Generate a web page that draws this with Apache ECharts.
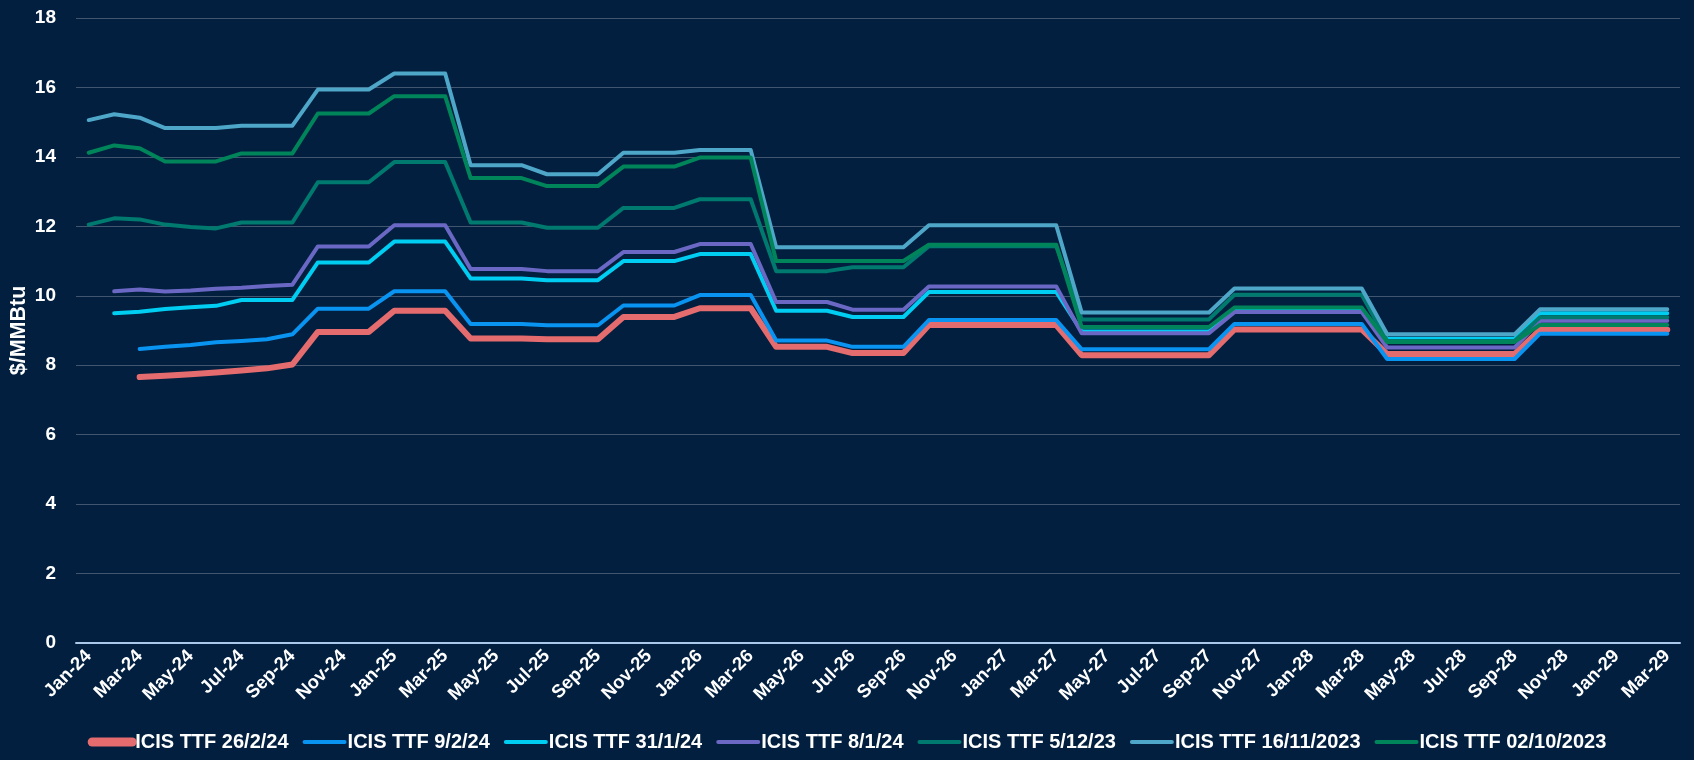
<!DOCTYPE html>
<html>
<head>
<meta charset="utf-8">
<script src="https://cdn.jsdelivr.net/npm/echarts@6/dist/echarts.min.js"></script>
<style>
  html, body { margin: 0; padding: 0; background: #021f3f; }
  #chart { width: 1694px; height: 760px; }
</style>
</head>
<body>
<div id="chart"></div>
<script>
const months = [
  'Jan-24', 'Feb-24', 'Mar-24', 'Apr-24', 'May-24', 'Jun-24', 'Jul-24', 'Aug-24', 'Sep-24', 'Oct-24', 'Nov-24', 'Dec-24',
  'Jan-25', 'Feb-25', 'Mar-25', 'Apr-25', 'May-25', 'Jun-25', 'Jul-25', 'Aug-25', 'Sep-25', 'Oct-25', 'Nov-25', 'Dec-25',
  'Jan-26', 'Feb-26', 'Mar-26', 'Apr-26', 'May-26', 'Jun-26', 'Jul-26', 'Aug-26', 'Sep-26', 'Oct-26', 'Nov-26', 'Dec-26',
  'Jan-27', 'Feb-27', 'Mar-27', 'Apr-27', 'May-27', 'Jun-27', 'Jul-27', 'Aug-27', 'Sep-27', 'Oct-27', 'Nov-27', 'Dec-27',
  'Jan-28', 'Feb-28', 'Mar-28', 'Apr-28', 'May-28', 'Jun-28', 'Jul-28', 'Aug-28', 'Sep-28', 'Oct-28', 'Nov-28', 'Dec-28',
  'Jan-29', 'Feb-29', 'Mar-29'
];

// $/MMBtu, one value per month (null = curve not yet quoted)
const ttf260224 = [
  null, null, 7.66, 7.70, 7.74, 7.79, 7.85, 7.91, 8.02, 8.96, 8.96, 8.96,
  9.57, 9.57, 9.57, 8.77, 8.77, 8.77, 8.75, 8.75, 8.75, 9.39, 9.39, 9.39,
  9.64, 9.64, 9.64, 8.53, 8.53, 8.53, 8.35, 8.35, 8.35, 9.16, 9.16, 9.16,
  9.16, 9.16, 9.16, 8.29, 8.29, 8.29, 8.29, 8.29, 8.29, 9.03, 9.03, 9.03,
  9.03, 9.03, 9.03, 8.32, 8.32, 8.32, 8.32, 8.32, 8.32, 9.02, 9.02, 9.02,
  9.02, 9.02, 9.02
];
const ttf090224 = [
  null, null, 8.47, 8.53, 8.58, 8.66, 8.70, 8.75, 8.89, 9.63, 9.63, 9.63,
  10.13, 10.13, 10.13, 9.19, 9.19, 9.19, 9.15, 9.15, 9.15, 9.72, 9.72, 9.72,
  10.02, 10.02, 10.02, 8.71, 8.71, 8.71, 8.53, 8.53, 8.53, 9.30, 9.30, 9.30,
  9.30, 9.30, 9.30, 8.46, 8.46, 8.46, 8.46, 8.46, 8.46, 9.19, 9.19, 9.19,
  9.19, 9.19, 9.19, 8.18, 8.18, 8.18, 8.18, 8.18, 8.18, 8.91, 8.91, 8.91,
  8.91, 8.91, 8.91
];
const ttf310124 = [
  null, 9.50, 9.54, 9.62, 9.67, 9.71, 9.88, 9.88, 9.88, 10.96, 10.96, 10.96,
  11.56, 11.56, 11.56, 10.50, 10.50, 10.50, 10.45, 10.45, 10.45, 11.00, 11.00, 11.00,
  11.20, 11.20, 11.20, 9.57, 9.57, 9.57, 9.39, 9.39, 9.39, 10.11, 10.11, 10.11,
  10.11, 10.11, 10.11, 8.97, 8.97, 8.97, 8.97, 8.97, 8.97, 9.56, 9.56, 9.56,
  9.56, 9.56, 9.56, 8.76, 8.76, 8.76, 8.76, 8.76, 8.76, 9.50, 9.50, 9.50,
  9.50, 9.50, 9.50
];
const ttf080124 = [
  null, 10.13, 10.18, 10.12, 10.15, 10.20, 10.23, 10.28, 10.32, 11.42, 11.42, 11.42,
  12.03, 12.03, 12.03, 10.77, 10.77, 10.77, 10.71, 10.71, 10.71, 11.26, 11.26, 11.26,
  11.49, 11.49, 11.49, 9.82, 9.82, 9.82, 9.60, 9.60, 9.60, 10.27, 10.27, 10.27,
  10.27, 10.27, 10.27, 8.92, 8.92, 8.92, 8.92, 8.92, 8.92, 9.53, 9.53, 9.53,
  9.53, 9.53, 9.53, 8.51, 8.51, 8.51, 8.51, 8.51, 8.51, 9.28, 9.28, 9.28,
  9.28, 9.28, 9.28
];
const ttf051223 = [
  12.05, 12.23, 12.20, 12.05, 11.98, 11.94, 12.11, 12.11, 12.11, 13.27, 13.27, 13.27,
  13.85, 13.85, 13.85, 12.11, 12.11, 12.11, 11.96, 11.96, 11.96, 12.53, 12.53, 12.53,
  12.78, 12.78, 12.78, 10.71, 10.71, 10.71, 10.82, 10.82, 10.82, 11.43, 11.43, 11.43,
  11.43, 11.43, 11.43, 9.32, 9.32, 9.32, 9.32, 9.32, 9.32, 10.03, 10.03, 10.03,
  10.03, 10.03, 10.03, 8.70, 8.70, 8.70, 8.70, 8.70, 8.70, 9.38, 9.38, 9.38,
  9.38, 9.38, 9.38
];
const ttf161123 = [
  15.06, 15.23, 15.13, 14.83, 14.83, 14.83, 14.90, 14.90, 14.90, 15.94, 15.94, 15.94,
  16.40, 16.40, 16.40, 13.76, 13.76, 13.76, 13.50, 13.50, 13.50, 14.12, 14.12, 14.12,
  14.20, 14.20, 14.20, 11.40, 11.40, 11.40, 11.40, 11.40, 11.40, 12.03, 12.03, 12.03,
  12.03, 12.03, 12.03, 9.52, 9.52, 9.52, 9.52, 9.52, 9.52, 10.21, 10.21, 10.21,
  10.21, 10.21, 10.21, 8.89, 8.89, 8.89, 8.89, 8.89, 8.89, 9.61, 9.61, 9.61,
  9.61, 9.61, 9.61
];
const ttf021023 = [
  14.12, 14.33, 14.25, 13.87, 13.87, 13.87, 14.10, 14.10, 14.10, 15.25, 15.25, 15.25,
  15.75, 15.75, 15.75, 13.39, 13.39, 13.39, 13.16, 13.16, 13.16, 13.72, 13.72, 13.72,
  13.98, 13.98, 13.98, 11.00, 11.00, 11.00, 11.00, 11.00, 11.00, 11.47, 11.47, 11.47,
  11.47, 11.47, 11.47, 9.10, 9.10, 9.10, 9.10, 9.10, 9.10, 9.66, 9.66, 9.66,
  9.66, 9.66, 9.66, 8.67, 8.67, 8.67, 8.67, 8.67, 8.67, 9.16, 9.16, 9.16,
  9.16, 9.16, 9.16
];

const curves = [
  { name: 'ICIS TTF 26/2/24', data: ttf260224, color: '#e46c6e', width: 6, iconWidth: 9 },
  { name: 'ICIS TTF 9/2/24', data: ttf090224, color: '#0994f2', width: 4, iconWidth: 4 },
  { name: 'ICIS TTF 31/1/24', data: ttf310124, color: '#00cdf2', width: 4, iconWidth: 4 },
  { name: 'ICIS TTF 8/1/24', data: ttf080124, color: '#6a68c4', width: 4, iconWidth: 4 },
  { name: 'ICIS TTF 5/12/23', data: ttf051223, color: '#00796e', width: 4, iconWidth: 4 },
  { name: 'ICIS TTF 16/11/2023', data: ttf161123, color: '#4ea6c8', width: 4, iconWidth: 4 },
  { name: 'ICIS TTF 02/10/2023', data: ttf021023, color: '#00855a', width: 4, iconWidth: 4 }
];

const font = 'Liberation Sans, Arial, sans-serif';
const chart = echarts.init(document.getElementById('chart'));
chart.setOption({
  backgroundColor: '#021f3f',
  animation: false,
  textStyle: { fontFamily: font },
  grid: {
    left: 76,
    right: 14,
    top: 18,
    bottom: 117,
    containLabel: false,
    outerBoundsMode: 'none'
  },
  legend: {
    bottom: 3,
    left: 'center',
    itemWidth: 40,
    itemHeight: 14,
    itemGap: 14,
    itemStyle: { opacity: 0 },
    textStyle: { color: '#ffffff', fontSize: 20, fontWeight: 'bold', fontFamily: font, padding: [0, 0, 0, -2] },
    data: curves.map(c => ({
      name: c.name,
      lineStyle: { width: c.iconWidth, cap: 'round', color: c.color }
    }))
  },
  xAxis: {
    type: 'category',
    data: months,
    boundaryGap: true,
    axisLine: { lineStyle: { color: '#a9c8ea', width: 2 } },
    axisTick: { interval: 1, length: 6, lineStyle: { color: '#a9c8ea', width: 1.5 } },
    axisLabel: {
      interval: 1,
      rotate: 45,
      color: '#ffffff',
      fontSize: 18.5,
      fontWeight: 'bold',
      margin: 10
    },
    splitLine: { show: false }
  },
  yAxis: {
    type: 'value',
    min: 0,
    max: 18,
    interval: 2,
    name: '$/MMBtu',
    nameLocation: 'middle',
    nameGap: 46,
    nameMoveOverlap: false,
    nameTextStyle: { color: '#ffffff', fontSize: 21.5, fontWeight: 'bold' },
    axisLine: { show: false },
    axisTick: { show: false },
    axisLabel: { color: '#ffffff', fontSize: 19, fontWeight: 'bold', margin: 20 },
    splitLine: { lineStyle: { color: '#42556e', width: 1.2 } }
  },
  series: curves.map(c => ({
    name: c.name,
    type: 'line',
    data: c.data,
    symbol: 'none',
    connectNulls: false,
    color: c.color,
    itemStyle: { color: c.color },
    lineStyle: { color: c.color, width: c.width, cap: 'round', join: 'round' }
  }))
});
</script>
</body>
</html>
